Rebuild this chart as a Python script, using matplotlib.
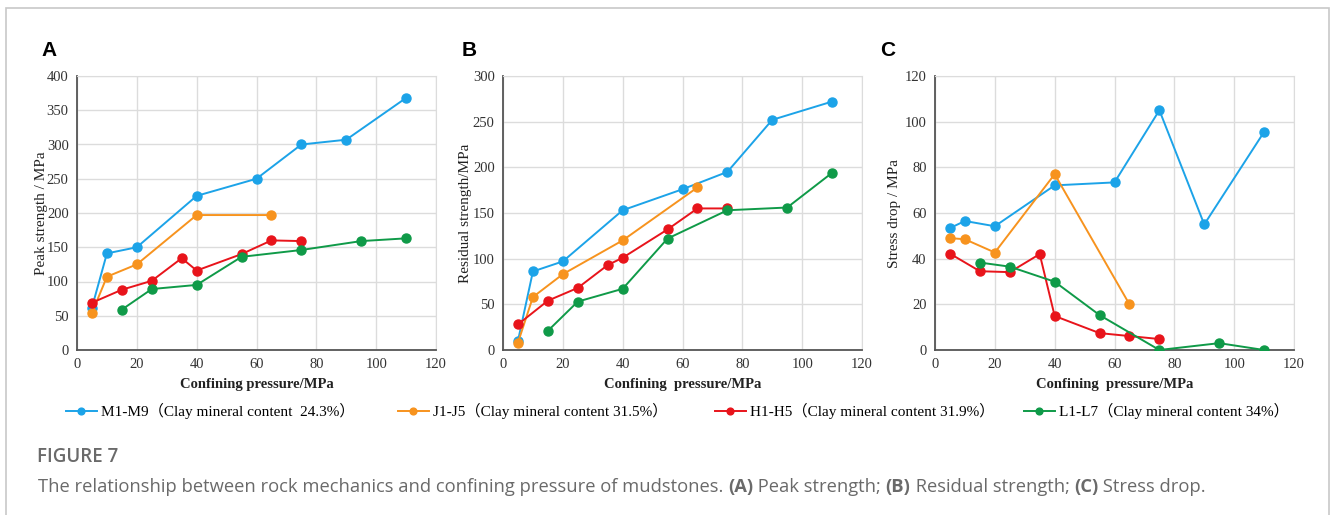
import matplotlib
matplotlib.use('Agg')
import matplotlib.pyplot as plt
from matplotlib.patches import Rectangle

# Confining pressure (MPa) and measured values for each sample group
m_x = [5, 10, 20, 40, 60, 75, 90, 110]
j_x = [5, 10, 20, 40, 65]
h_x = [5, 15, 25, 35, 40, 55, 65, 75]
l_x = [15, 25, 40, 55, 75, 95, 110]

# (A) Peak strength
m_peak = [62, 141, 150, 225, 250, 300, 307, 368]
j_peak = [54, 107, 125, 197, 197]
h_peak = [69, 88, 101, 134, 116, 140, 160, 159]
l_peak = [59, 89, 95, 136, 146, 159, 163]

# (B) Residual strength
m_res = [10, 86, 97, 153, 176, 195, 252, 272]
j_res = [8, 58, 83, 120, 178]
h_res = [28, 54, 68, 93, 101, 132, 155, 155]
l_res = [21, 53, 67, 122, 153, 156, 194]

# (C) Stress drop
m_drop = [53.4, 56.5, 54.2, 72.1, 73.4, 105, 55, 95.5]
j_drop = [49, 48.5, 42.7, 77, 20]
h_drop = [42.2, 34.5, 34.1, 42, 14.9, 7.4, 6.1, 4.8]
l_drop = [38.3, 36.5, 29.9, 15.3, 0, 3, 0]

labels = ['M1-M9\uff08Clay mineral content  24.3%\uff09',
          'J1-J5\uff08Clay mineral content 31.5%\uff09',
          'H1-H5\uff08Clay mineral content 31.9%\uff09',
          'L1-L7\uff08Clay mineral content 34%\uff09']
colors = ['#1ca3e8', '#f7931e', '#e8141b', '#0f9a48']

# letter, y label, x label, y max, y step, axes left (px), letter x (px), label edge (px), data
panels = [
    ('A', 'Peak strength / MPa', 'Confining pressure/MPa', 400, 50, 77, 49, 48,
     [m_peak, j_peak, h_peak, l_peak]),
    ('B', 'Residual strength/MPa', 'Confining  pressure/MPa', 300, 50, 503, 469, 472,
     [m_res, j_res, h_res, l_res]),
    ('C', 'Stress drop / MPa', 'Confining  pressure/MPa', 120, 20, 935, 888, 901,
     [m_drop, j_drop, h_drop, l_drop]),
]
xs = [m_x, j_x, h_x, l_x]

W, H = 1330, 515
serif = ['Liberation Serif', 'Noto Sans CJK SC']
grey = '#6a6a6a'
fig = plt.figure(figsize=(W / 100, H / 100), dpi=100)

# thin frame around the figure (open at the bottom)
fig.patches.append(Rectangle((6 / W, -0.1), 1323 / W, 1.1 - 8 / H,
                             transform=fig.transFigure, fill=False,
                             edgecolor='#c8c8c8', linewidth=1.2))

handles = None
for letter, ylab, xlab, ymax, ystep, left_px, let_px, lab_px, series in panels:
    ax = fig.add_axes([left_px / W, (H - 350) / H, 359 / W, 274 / H])
    lines = []
    for x, y, c in zip(xs, series, colors):
        ln, = ax.plot(x, y, color=c, lw=1.4, marker='o', ms=6.5, zorder=3)
        lines.append(ln)
    if handles is None:
        handles = lines
    ax.set_xlim(0, 120)
    ax.set_ylim(0, ymax)
    ax.set_xticks(range(0, 121, 20))
    ax.set_yticks(range(0, ymax + 1, ystep))
    ax.grid(True, color='#dcdcdc', lw=1.0)
    ax.set_axisbelow(True)
    for s in ['top', 'right']:
        ax.spines[s].set_color('#dcdcdc')
    for s in ['left', 'bottom']:
        ax.spines[s].set_color('#555555')
        ax.spines[s].set_linewidth(1.3)
    ax.tick_params(length=0, pad=6, labelsize=10.5, labelcolor='#333333')
    for t in ax.get_xticklabels() + ax.get_yticklabels():
        t.set_family(serif)
    ax.set_ylabel(ylab, family=serif, fontsize=11, color='#222222')
    ax.yaxis.set_label_coords((lab_px - left_px) / 359, 0.5)
    ax.set_xlabel(xlab, family=serif, fontsize=10.5, fontweight='bold',
                  color='#222222', labelpad=5)
    fig.text(let_px / W, (H - 51) / H, letter, fontsize=15,
             fontweight='bold', family='Liberation Sans',
             ha='center', va='center')

# legend, one entry per group
leg_x = [66, 398, 715, 1024]
for h, lab, x0 in zip(handles, labels, leg_x):
    fig.legend(handles=[h], labels=[lab], loc='center left',
               bbox_to_anchor=(x0 / W, (H - 411) / H), frameon=False,
               handlelength=2.0, handletextpad=0.3, borderpad=0, borderaxespad=0,
               prop={'family': serif, 'size': 11}, markerscale=0.75)

# caption
fig.text(37 / W, (H - 457) / H, 'FIGURE 7', family='Open Sans', fontsize=13.5,
         fontweight='semibold', color=grey, va='center')
parts = [('The relationship between rock mechanics and confining pressure of mudstones. ', 'normal'),
         ('(A)', 'bold'), (' Peak strength; ', 'normal'),
         ('(B)', 'bold'), (' Residual strength; ', 'normal'),
         ('(C)', 'bold'), (' Stress drop.', 'normal')]
renderer = fig.canvas.get_renderer()
x_px = 38
base_y = (H - 492) / H
for txt, wt in parts:
    t = fig.text(x_px / W, base_y, txt, family='Open Sans', fontsize=13.2,
                 color=grey, fontweight=wt, va='baseline')
    x_px = t.get_window_extent(renderer).x1

fig.savefig('out.png', dpi=100)
